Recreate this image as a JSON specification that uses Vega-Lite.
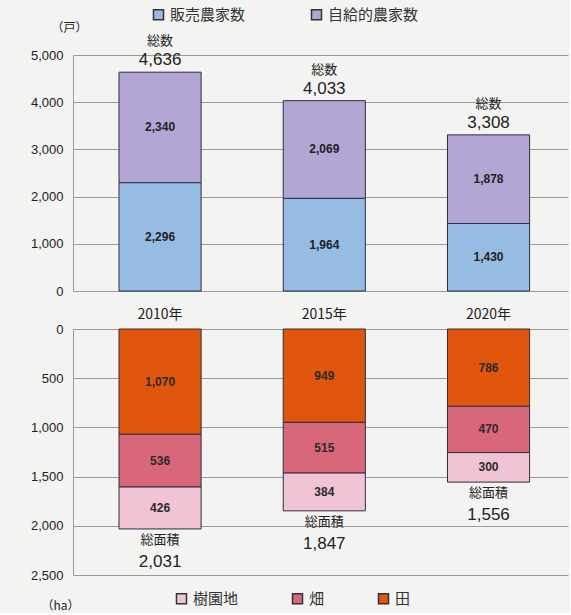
{
  "$schema": "https://vega.github.io/schema/vega-lite/v6.json",
  "padding": {"left": 30, "top": 7, "right": 2, "bottom": 2},
  "background": "#f3f3f1",
  "bounds": "flush",
  "spacing": 38,
  "config": {
    "font": "Noto Sans CJK JP",
    "view": {"stroke": null},
    "axis": {"labelFont": "Liberation Sans", "labelFontSize": 13, "labelColor": "#222", "gridColor": "#9a9a9a", "gridWidth": 1, "ticks": false, "domainColor": "#9a9a9a"}
  },
  "datasets": {
    "households": [
      {"year": "2010年", "type": "販売農家数", "value": 2296, "order": 1},
      {"year": "2010年", "type": "自給的農家数", "value": 2340, "order": 2},
      {"year": "2015年", "type": "販売農家数", "value": 1964, "order": 1},
      {"year": "2015年", "type": "自給的農家数", "value": 2069, "order": 2},
      {"year": "2020年", "type": "販売農家数", "value": 1430, "order": 1},
      {"year": "2020年", "type": "自給的農家数", "value": 1878, "order": 2}
    ],
    "hhTotals": [
      {"year": "2010年", "total": 4636, "label": "総数"},
      {"year": "2015年", "total": 4033, "label": "総数"},
      {"year": "2020年", "total": 3308, "label": "総数"}
    ],
    "area": [
      {"year": "2010年", "type": "田", "value": 1070, "order": 1},
      {"year": "2010年", "type": "畑", "value": 536, "order": 2},
      {"year": "2010年", "type": "樹園地", "value": 426, "order": 3},
      {"year": "2015年", "type": "田", "value": 949, "order": 1},
      {"year": "2015年", "type": "畑", "value": 515, "order": 2},
      {"year": "2015年", "type": "樹園地", "value": 384, "order": 3},
      {"year": "2020年", "type": "田", "value": 786, "order": 1},
      {"year": "2020年", "type": "畑", "value": 470, "order": 2},
      {"year": "2020年", "type": "樹園地", "value": 300, "order": 3}
    ],
    "areaTotals": [
      {"year": "2010年", "total": 2031, "label": "総面積"},
      {"year": "2015年", "total": 1847, "label": "総面積"},
      {"year": "2020年", "total": 1556, "label": "総面積"}
    ]
  },
  "vconcat": [
    {
      "width": 495,
      "height": 236,
      "encoding": {
        "x": {"field": "year", "type": "nominal", "sort": null, "axis": null,
          "scale": {"paddingInner": 0.5, "paddingOuter": 0.257, "align": 0.545}}
      },
      "layer": [
        {
          "data": {"name": "households"},
          "mark": {"type": "bar", "stroke": "#2e2e40", "strokeWidth": 1},
          "encoding": {
            "y": {"field": "value", "type": "quantitative", "stack": "zero",
              "scale": {"domain": [0, 5000], "nice": false},
              "axis": {"values": [0, 1000, 2000, 3000, 4000, 5000], "format": ",d", "labelPadding": 10, "domain": true,
                "title": "（戸）", "titleAngle": 0, "titleFont": "Noto Sans CJK JP", "titleFontSize": 12, "titleFontWeight": "normal", "titleColor": "#222",
                "titleX": -22, "titleY": -28, "titleAlign": "left", "titleBaseline": "middle"}},
            "color": {"field": "type", "type": "nominal",
              "scale": {"domain": ["販売農家数", "自給的農家数"], "range": ["#96bce3", "#b3a6d4"]},
              "legend": {"orient": "none", "legendX": 78, "legendY": -48, "direction": "horizontal", "title": null,
                "symbolType": "square", "symbolSize": 100, "symbolStrokeColor": "#333", "symbolStrokeWidth": 1.5,
                "labelFontSize": 15, "labelColor": "#333", "labelFont": "Noto Sans CJK JP", "columnPadding": 62}},
            "order": {"field": "order"}
          }
        },
        {
          "data": {"name": "households"},
          "transform": [
            {"stack": "value", "groupby": ["year"], "sort": [{"field": "order"}], "as": ["y0", "y1"]},
            {"fold": ["y0", "y1"], "as": ["edge", "pos"]},
            {"aggregate": [{"op": "mean", "field": "pos", "as": "mid"}], "groupby": ["year", "type", "value"]}
          ],
          "mark": {"type": "text", "font": "Liberation Sans", "fontSize": 12, "fontWeight": "bold", "color": "#222"},
          "encoding": {
            "y": {"field": "mid", "type": "quantitative"},
            "text": {"field": "value", "type": "quantitative", "format": ","}
          }
        },
        {
          "data": {"name": "hhTotals"},
          "mark": {"type": "text", "font": "Liberation Sans", "fontSize": 17, "baseline": "bottom", "dy": -3, "color": "#222"},
          "encoding": {
            "y": {"field": "total", "type": "quantitative"},
            "text": {"field": "total", "type": "quantitative", "format": ","}
          }
        },
        {
          "data": {"name": "hhTotals"},
          "mark": {"type": "text", "fontSize": 13, "baseline": "bottom", "dy": -24, "color": "#222"},
          "encoding": {
            "y": {"field": "total", "type": "quantitative"},
            "text": {"field": "label"}
          }
        }
      ]
    },
    {
      "width": 495,
      "height": 246,
      "encoding": {
        "x": {"field": "year", "type": "nominal", "sort": null,
          "scale": {"paddingInner": 0.5, "paddingOuter": 0.257, "align": 0.545},
          "axis": {"orient": "top", "title": null, "domain": false, "labelAngle": 0, "labelPadding": 8, "labelFontSize": 14, "labelFont": "Noto Sans CJK JP"}}
      },
      "layer": [
        {
          "data": {"name": "area"},
          "mark": {"type": "bar", "stroke": "#2e2e40", "strokeWidth": 1},
          "encoding": {
            "y": {"field": "value", "type": "quantitative", "stack": "zero",
              "scale": {"domain": [0, 2500], "reverse": true, "nice": false},
              "axis": {"values": [0, 500, 1000, 1500, 2000, 2500], "format": ",d", "labelPadding": 10, "domain": true,
                "title": "（ha）", "titleAngle": 0, "titleFont": "Noto Sans CJK JP", "titleFontSize": 12, "titleFontWeight": "normal", "titleColor": "#222",
                "titleX": -32, "titleY": 276, "titleAlign": "left", "titleBaseline": "middle"}},
            "color": {"field": "type", "type": "nominal",
              "scale": {"domain": ["樹園地", "畑", "田"], "range": ["#f0c4d5", "#d9677a", "#e0560c"]},
              "legend": {"orient": "none", "legendX": 101, "legendY": 262, "direction": "horizontal", "title": null,
                "symbolType": "square", "symbolSize": 100, "symbolStrokeColor": "#333", "symbolStrokeWidth": 1.5,
                "labelFontSize": 15, "labelColor": "#333", "labelFont": "Noto Sans CJK JP", "columnPadding": 50}},
            "order": {"field": "order"}
          }
        },
        {
          "data": {"name": "area"},
          "transform": [
            {"stack": "value", "groupby": ["year"], "sort": [{"field": "order"}], "as": ["y0", "y1"]},
            {"fold": ["y0", "y1"], "as": ["edge", "pos"]},
            {"aggregate": [{"op": "mean", "field": "pos", "as": "mid"}], "groupby": ["year", "type", "value"]}
          ],
          "mark": {"type": "text", "font": "Liberation Sans", "fontSize": 12, "fontWeight": "bold", "color": "#2a2a2a"},
          "encoding": {
            "y": {"field": "mid", "type": "quantitative"},
            "text": {"field": "value", "type": "quantitative", "format": ","}
          }
        },
        {
          "data": {"name": "areaTotals"},
          "mark": {"type": "text", "fontSize": 13, "baseline": "top", "dy": 5, "color": "#222"},
          "encoding": {
            "y": {"field": "total", "type": "quantitative"},
            "text": {"field": "label"}
          }
        },
        {
          "data": {"name": "areaTotals"},
          "mark": {"type": "text", "font": "Liberation Sans", "fontSize": 17, "baseline": "top", "dy": 25, "color": "#222"},
          "encoding": {
            "y": {"field": "total", "type": "quantitative"},
            "text": {"field": "total", "type": "quantitative", "format": ","}
          }
        }
      ]
    }
  ],
  "resolve": {"scale": {"color": "independent", "y": "independent"}, "legend": {"color": "independent"}}
}
